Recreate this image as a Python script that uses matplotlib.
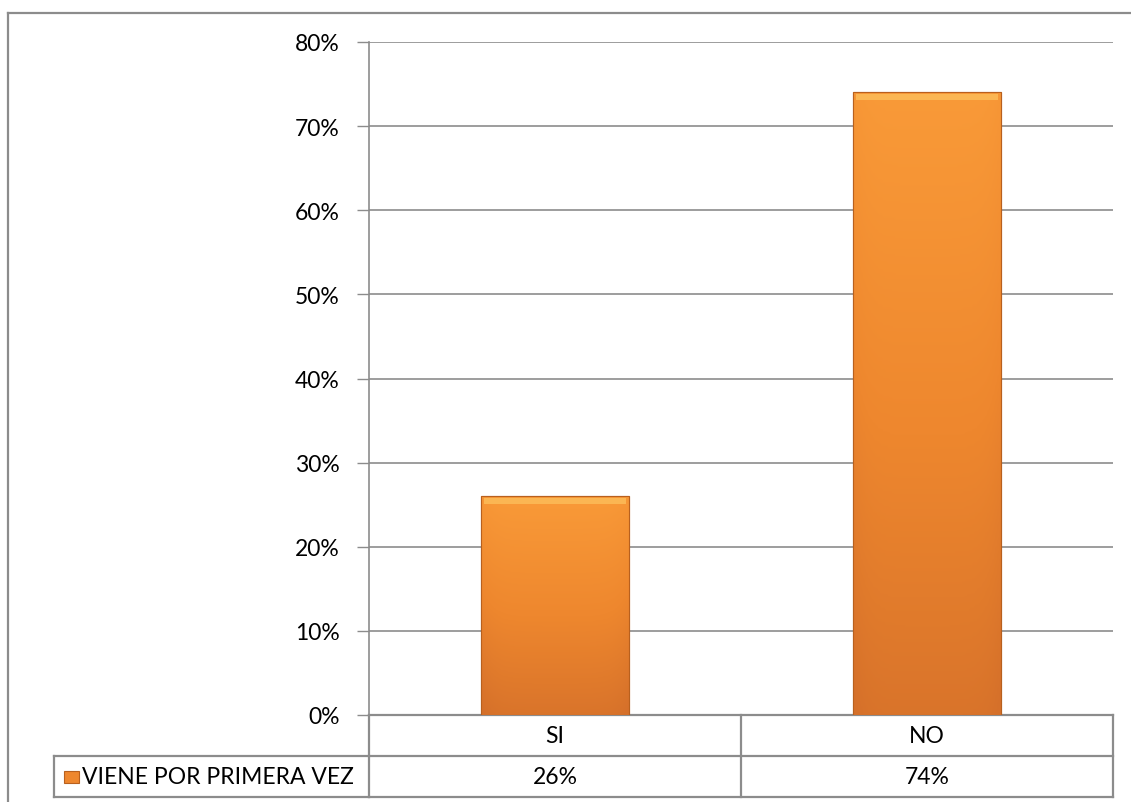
import numpy as np
import matplotlib
matplotlib.use("Agg")
import matplotlib.pyplot as plt
from matplotlib.lines import Line2D
from matplotlib.colors import LinearSegmentedColormap
from matplotlib.patches import Rectangle

categories = ["SI", "NO"]
values = [26, 74]
series_name = "VIENE POR PRIMERA VEZ"
yticks = [0, 10, 20, 30, 40, 50, 60, 70, 80]

plt.rcParams["font.family"] = ["Lato", "DejaVu Sans"]
grid_col = "#8c8c8c"
fs = 16.5

fig = plt.figure(figsize=(11.31, 8.03), dpi=100)
ax = fig.add_axes([369 / 1131, 1 - 716 / 803, 744 / 1131, 673 / 803])

x = np.arange(len(categories))
bars = ax.bar(x, values, width=0.4, color="#f0892e", edgecolor="#b8601e",
              linewidth=0.8, zorder=3)

# vertical orange gradient inside each bar, darker towards bottom and sides
cmap = LinearSegmentedColormap.from_list("org", ["#d5702a", "#ee872e", "#f99a38"])
for b in bars:
    x0, y0 = b.get_x(), b.get_y()
    w, h = b.get_width(), b.get_height()
    vert = np.linspace(0, 1, 200)[:, None]
    horiz = np.linspace(-1, 1, 60)[None, :]
    img = vert - 0.12 * np.abs(horiz) ** 6
    im = ax.imshow(img, cmap=cmap, extent=[x0, x0 + w, y0, y0 + h], origin="lower",
                   aspect="auto", zorder=3.5, vmin=-0.1, vmax=1)
    im.set_clip_path(b)
    # bevel highlight along top edge
    ax.add_patch(Rectangle((x0 + w * 0.02, y0 + h - 0.9), w * 0.96, 0.7,
                           color="#fbb653", lw=0, zorder=3.6))
    ax.add_patch(Rectangle((x0, y0), w, h, fill=False, ec="#b8601e", lw=0.8, zorder=3.7))

ax.set_xlim(-0.5, len(categories) - 0.5)
ax.set_ylim(0, 80)
ax.set_yticks(yticks)
ax.set_yticklabels([f"{t}%" for t in yticks], fontsize=fs)
ax.tick_params(axis="y", length=9, width=1, color=grid_col, pad=12)
ax.set_xticks([])
ax.yaxis.grid(True, color=grid_col, linewidth=1.2, zorder=0)
ax.set_axisbelow(True)
for s in ["top", "right", "bottom"]:
    ax.spines[s].set_visible(False)
ax.spines["left"].set_color(grid_col)
ax.spines["left"].set_linewidth(1.2)

# data table under the plot (axes fraction in y, data in x)
tr = ax.get_xaxis_transform()
row_h = 41 / 673
lw = 1.6
xl, xr = -0.5, len(categories) - 0.5
for yy in [0, -row_h, -2 * row_h]:
    ax.add_line(Line2D([xl, xr], [yy, yy], transform=tr, color=grid_col, lw=lw, clip_on=False))
for xx in np.arange(xl, xr + 0.01, 1.0):
    ax.add_line(Line2D([xx, xx], [0, -2 * row_h], transform=tr, color=grid_col, lw=lw, clip_on=False))
for i, (c, v) in enumerate(zip(categories, values)):
    ax.text(i, -row_h / 2, c, transform=tr, ha="center", va="center", fontsize=fs)
    ax.text(i, -1.5 * row_h, f"{v}%", transform=tr, ha="center", va="center", fontsize=fs)

# legend cell to the left of the table
fx0, fx1 = 54 / 1131, 369 / 1131
fy0, fy1 = 1 - 798 / 803, 1 - 757 / 803
for xs, ys in [([fx0, fx1], [fy0, fy0]), ([fx0, fx1], [fy1, fy1]), ([fx0, fx0], [fy0, fy1])]:
    fig.add_artist(Line2D(xs, ys, color=grid_col, lw=lw))
fig.add_artist(Rectangle((64 / 1131, 1 - 784 / 803), 15 / 1131, 12 / 803,
                         facecolor="#ee872e", edgecolor="#b8601e", lw=0.8))
fig.text(82 / 1131, (fy0 + fy1) / 2, series_name, ha="left", va="center", fontsize=fs)

# outer chart border (cropped at right and bottom)
fig.add_artist(Line2D([8 / 1131, 1], [1 - 14 / 803, 1 - 14 / 803], color=grid_col, lw=1.6))
fig.add_artist(Line2D([8 / 1131, 8 / 1131], [0, 1 - 14 / 803], color=grid_col, lw=1.6))

fig.savefig("out.png", dpi=100, facecolor="white")
